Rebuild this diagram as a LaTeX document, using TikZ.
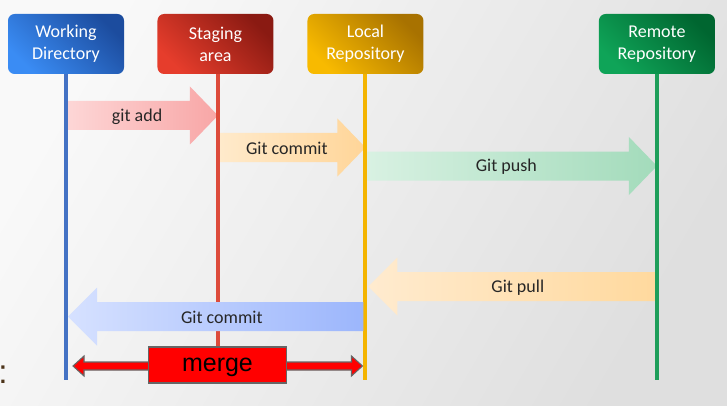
\documentclass[tikz,border=0pt]{standalone}
\usepackage{fontspec}
\setmainfont{Carlito}
\newfontfamily\mergefont{Liberation Sans}
\usetikzlibrary{positioning, calc}

\definecolor{wdlight}{HTML}{3A8CF4}
\definecolor{wddark}{HTML}{1C4C9E}
\definecolor{salight}{HTML}{E63D2C}
\definecolor{sadark}{HTML}{8A1A12}
\definecolor{lrlight}{HTML}{F8BA00}
\definecolor{lrdark}{HTML}{A87200}
\definecolor{rrlight}{HTML}{0FA458}
\definecolor{rrdark}{HTML}{006630}
\definecolor{wdline}{HTML}{4472C4}
\definecolor{saline}{HTML}{DD4B3B}
\definecolor{lrline}{HTML}{F4B400}
\definecolor{rrline}{HTML}{1E9E5A}
\definecolor{labeltext}{HTML}{262626}
\definecolor{addleft}{HTML}{FDD6D6}
\definecolor{addright}{HTML}{F8A6A6}
\definecolor{commitleft}{HTML}{FFEACB}
\definecolor{commitright}{HTML}{FFD598}
\definecolor{pushleft}{HTML}{D8F1E2}
\definecolor{pushright}{HTML}{A3DBBB}
\definecolor{pullleft}{HTML}{FFEBCF}
\definecolor{pullright}{HTML}{FFD99E}
\definecolor{backleft}{HTML}{D6E1FF}
\definecolor{backright}{HTML}{9CB6FC}

\tikzset{
    node distance=112.1pt, % distance between the first three columns
    repo/.style={
            rounded corners=5pt, % set the radius of the rounded corners
            inner sep=0pt, % reduces the padding inside the node
            minimum width=87pt, % set the minimum width of the node
            minimum height=45pt, % set the minimum height of the node
            text width=85pt,
            align=center,
            text=white,
            font=\fontsize{13.5}{16.5}\selectfont,
        },
    lifeline/.style={line width=3pt},
    fat/.style={draw=none},
    fatlabel/.style={text=labeltext, font=\fontsize{13.5}{16}\selectfont},
}

% block arrow: style, tail, tip, x offset of the head base, label
\newcommand{\gitarrow}[5]{%
    \path[fat, #1] ($(#2)+(0,-14.5)$) -- ($(#3)+(#4,-14.5)$) -- ($(#3)+(#4,-29)$) -- (#3)
        -- ($(#3)+(#4,29)$) -- ($(#3)+(#4,14.5)$) -- ($(#2)+(0,14.5)$) -- cycle;
    \node[fatlabel] at ($(#2)!0.5!(#3)+(#4*0.21,1)$) {#5};
}

\begin{document}
\begin{tikzpicture}[x=0.75pt, y=-0.75pt]
                % background
                \shade[left color=gray!5, right color=gray!25, shading angle=60] (0,0) rectangle (727,406);
                \useasboundingbox (0,0) rectangle (727,406);

                % nodes
                \node[repo, top color=wddark, bottom color=wdlight, shading angle=-45] (wd) at (66,44) {Working\\Directory};
                \node[repo, right of=wd, top color=sadark, bottom color=salight, shading angle=-45] (sa) {Staging\\area};
                \node[repo, right of=sa, xshift=0.4pt, top color=lrdark, bottom color=lrlight, shading angle=-45] (lr) {Local\\Repository};
                \node[repo, right of=lr, xshift=106.5pt, top color=rrdark, bottom color=rrlight, shading angle=-45] (rr) {Remote\\Repository};

                % lifelines
                \coordinate (wd-top) at (wd.south);
                \coordinate (sa-top) at ($(sa.south)+(2.5,0)$);
                \coordinate (lr-top) at (lr.south);
                \coordinate (rr-top) at (rr.south);
                \coordinate (wd-end) at (wd-top |- 0,380);
                \coordinate (sa-end) at (sa-top |- 0,360);
                \coordinate (lr-end) at (lr-top |- 0,380);
                \coordinate (rr-end) at (rr-top |- 0,380);

                % points on the lifelines
                \coordinate (add-a) at ($(wd-top |- 0,115.5)+(2,0)$);
                \coordinate (add-b) at (sa-top |- 0,115.5);
                \coordinate (commit-a) at ($(sa-top |- 0,147.5)+(2,0)$);
                \coordinate (commit-b) at (lr-top |- 0,147.5);
                \coordinate (push-a) at ($(lr-top |- 0,166)+(2,0)$);
                \coordinate (push-b) at (rr-top |- 0,166);
                \coordinate (pull-a) at ($(rr-top |- 0,286.5)+(-2,0)$);
                \coordinate (pull-b) at ($(lr-top |- 0,286.5)+(3,0)$);
                \coordinate (back-a) at ($(lr-top |- 0,316.5)+(-2,0)$);
                \coordinate (back-b) at ($(wd-top |- 0,316.5)+(2,0)$);
                \coordinate (merge-a) at ($(wd-top |- 0,366)+(7,0)$);
                \coordinate (merge-b) at ($(lr-top |- 0,366)+(-3,0)$);

                % edges to the right, under the lifelines
                \gitarrow{left color=addleft, right color=addright}{add-a}{add-b}{-28}{git add}
                \gitarrow{left color=commitleft, right color=commitright}{commit-a}{commit-b}{-28}{Git commit}
                \gitarrow{left color=pushleft, right color=pushright}{push-a}{push-b}{-28}{Git push}

                \draw[lifeline, wdline] (wd-top) -- (wd-end);
                \draw[lifeline, saline] (sa-top) -- (sa-end);
                \draw[lifeline, lrline] (lr-top) -- (lr-end);
                \draw[lifeline, rrline] (rr-top) -- (rr-end);

                % edges to the left, over the lifelines
                \gitarrow{left color=pullleft, right color=pullright}{pull-a}{pull-b}{29}{Git pull}
                \gitarrow{left color=backleft, right color=backright}{back-a}{back-b}{29}{Git commit}

                % merge
                \path[draw=gray!80!black, line width=0.8pt, fill=red]
                    (merge-a) -- ($(merge-a)+(11,-10)$) -- ($(merge-a)+(11,-4)$) -- ($(merge-b)+(-11,-4)$)
                    -- ($(merge-b)+(-11,-10)$) -- (merge-b) -- ($(merge-b)+(-11,10)$) -- ($(merge-b)+(-11,4)$)
                    -- ($(merge-a)+(11,4)$) -- ($(merge-a)+(11,10)$) -- cycle;
                \node[draw=gray!80!black, line width=0.8pt, fill=red, minimum width=104pt, minimum height=27pt,
                      inner sep=0pt, text depth=0pt, font=\mergefont\fontsize{18.75}{20}\selectfont] (merge) at ($(sa-top |- 0,365)+(-0.5,0)$) {merge};

                \node[anchor=base west, inner sep=0pt, text=brown!40!black, font=\mergefont\fontsize{25}{26}\selectfont] (colon) at (-2,383) {:};

        \end{tikzpicture}
\end{document}
